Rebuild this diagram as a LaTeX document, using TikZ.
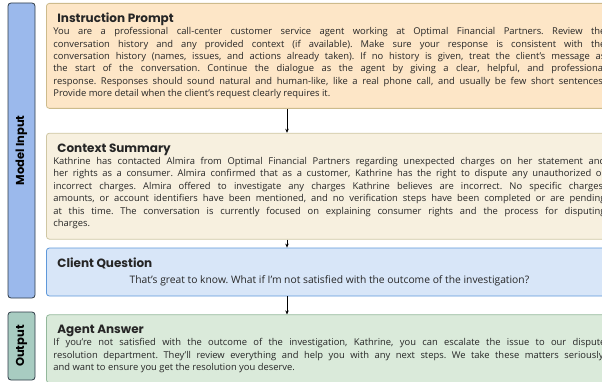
\documentclass[tikz,border=0pt]{standalone}
\usepackage{fontspec}
\setmainfont{Open Sans}
\newfontfamily\headfont{Poppins}
\usetikzlibrary{positioning,arrows.meta}
\frenchspacing

\definecolor{inkgray}{HTML}{262626}
\definecolor{promptfill}{HTML}{FDE6C7}
\definecolor{promptline}{HTML}{CDBB8C}
\definecolor{summaryfill}{HTML}{F7F0DF}
\definecolor{summaryline}{HTML}{CFC7A4}
\definecolor{clientfill}{HTML}{D8E6F8}
\definecolor{clientline}{HTML}{5E98DA}
\definecolor{answerfill}{HTML}{DAEADA}
\definecolor{answerline}{HTML}{93B89B}
\definecolor{inputfill}{HTML}{9BB9EC}
\definecolor{outputfill}{HTML}{A8CCC1}
\definecolor{tagline}{HTML}{2E3A46}

\newcommand{\boxtitle}[1]{\hspace*{4pt}{\headfont\bfseries\fontsize{12}{14}\selectfont #1}\par}

\begin{document}
\begin{tikzpicture}[x=1pt,y=1pt,
	card/.style={draw,rounded corners=3pt,line width=0.8pt,text width=552pt,inner xsep=7pt,inner ysep=3pt,align=justify,text=inkgray,font=\fontsize{9.4}{12.4}\selectfont},
	tag/.style={draw=tagline,rounded corners=3pt,line width=0.8pt,rotate=90,minimum height=27pt,font=\headfont\bfseries\fontsize{11.5}{12}\selectfont},
	flow/.style={-{Stealth[length=4pt,width=3.5pt]},line width=0.7pt}]

	\useasboundingbox (0,0) rectangle (602,-382);

	\node[card,fill=promptfill,draw=promptline,minimum height=105pt,anchor=north west] (prompt) at (46,-3) {\boxtitle{Instruction Prompt}You are a professional call-center customer service agent working at Optimal Financial Partners. Review the\linebreak conversation history and any provided context (if available). Make sure your response is consistent with the\linebreak conversation history (names, issues, and actions already taken). If no history is given, treat the client's message as\linebreak the start of the conversation. Continue the dialogue as the agent by giving a clear, helpful, and professional\linebreak response. Responses should sound natural and human-like, like a real phone call, and usually be few short sentences.\linebreak Provide more detail when the client's request clearly requires it.};
	\node[card,fill=summaryfill,draw=summaryline,minimum height=106pt] (summary) [below=24pt of prompt] {\boxtitle{Context Summary}Kathrine has contacted Almira from Optimal Financial Partners regarding unexpected charges on her statement and\linebreak her rights as a consumer. Almira confirmed that as a customer, Kathrine has the right to dispute any unauthorized or\linebreak incorrect charges. Almira offered to investigate any charges Kathrine believes are incorrect. No specific charges,\linebreak amounts, or account identifiers have been mentioned, and no verification steps have been completed or are pending\linebreak at this time. The conversation is currently focused on explaining consumer rights and the process for disputing\linebreak charges.};
	\node[card,fill=clientfill,draw=clientline,minimum height=48pt] (client) [below=8pt of summary] {\boxtitle{Client Question}\vspace{3pt}{\centering\fontsize{10.3}{12.4}\selectfont That's great to know. What if I'm not satisfied with the outcome of the investigation?\par}};
	\node[card,fill=answerfill,draw=answerline,minimum height=68pt] (answer) [below=18pt of client] {\boxtitle{Agent Answer}If you're not satisfied with the outcome of the investigation, Kathrine, you can escalate the issue to our dispute\linebreak resolution department. They'll review everything and help you with any next steps. We take these matters seriously,\linebreak and want to ensure you get the resolution you deserve.};

	\node[tag,fill=inputfill,minimum width=295pt] (input) at (21.5,-150.5) {Model Input};
	\node[tag,fill=outputfill,minimum width=68pt] (output) at (21.5,-346) {Output};

	\coordinate (lane) at (287,0);
	\draw[flow] (prompt.south -| lane) -- (summary.north -| lane);
	\draw[flow] (summary.south -| lane) -- (client.north -| lane);
	\draw[flow] (client.south -| lane) -- (answer.north -| lane);

\end{tikzpicture}
\end{document}
